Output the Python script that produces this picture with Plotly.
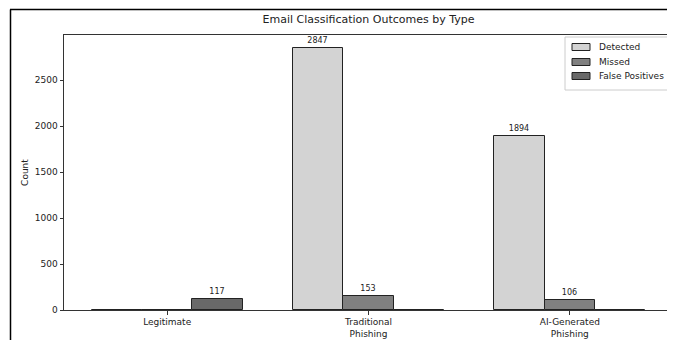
import plotly.graph_objects as go

categories = ["Legitimate", "Traditional<br>Phishing", "AI-Generated<br>Phishing"]
detected = [0, 2847, 1894]
missed = [0, 153, 106]
false_positives = [117, 0, 0]
series_names = ["Detected", "Missed", "False Positives"]
series_colors = ["#d3d3d3", "#808080", "#696969"]
y_ticks = [0, 500, 1000, 1500, 2000, 2500]

FONT = "DejaVu Sans, Arial, sans-serif"
TXT = "#222222"
EDGE = "#222222"

# page body has an 8px margin: figure drawn at (8, 8)
OFF = 8
W, H = 675 - OFF, 340 - OFF
# plot area in page pixels: left 64, right 673, top 35, bottom 310
L, R, T, B = 64 - OFF, 673 - OFF, 35 - OFF, 310 - OFF
pw, ph = R - L, B - T


def px_x(x):
    return (x - OFF - L) / pw


def px_y(y):
    return (B - (y - OFF)) / ph


fig = go.Figure()
x_pos = [0, 1, 2]
width = 0.25
for i, (name, vals, col) in enumerate(zip(series_names, [detected, missed, false_positives], series_colors)):
    off = (i - 1) * width
    fig.add_trace(go.Bar(
        x=[p + off for p in x_pos],
        y=vals,
        width=width,
        name=name,
        marker=dict(color=col, line=dict(color=EDGE, width=1)),
        text=[str(v) if v > 0 else "" for v in vals],
        textposition="outside",
        textfont=dict(size=8, color=TXT, family=FONT),
        cliponaxis=False,
        showlegend=False,
    ))

ymax = max(detected + missed + false_positives) * 1.05

shapes = [
    dict(type="line", xref="paper", yref="paper",
         x0=px_x(10.5), x1=px_x(10.5), y0=px_y(9.5), y1=px_y(345),
         line=dict(color="black", width=1.5)),
    dict(type="line", xref="paper", yref="paper",
         x0=px_x(10), x1=px_x(680), y0=px_y(9.5), y1=px_y(9.5),
         line=dict(color="black", width=1.5)),
    # legend frame
    dict(type="rect", xref="paper", yref="paper",
         x0=px_x(565), x1=px_x(670), y0=px_y(37), y1=px_y(90),
         line=dict(color="#cccccc", width=1), fillcolor="rgba(255,255,255,0.8)"),
]
annotations = []
leg_y = [47, 62, 76]
for name, col, yy in zip(series_names, series_colors, leg_y):
    shapes.append(dict(type="rect", xref="paper", yref="paper",
                       x0=px_x(572), x1=px_x(590), y0=px_y(yy - 3.5), y1=px_y(yy + 3.5),
                       line=dict(color=EDGE, width=1), fillcolor=col))
    annotations.append(dict(text=name, xref="paper", yref="paper",
                            x=px_x(597), y=px_y(yy), xanchor="left", yanchor="middle",
                            showarrow=False, font=dict(size=9, color=TXT, family=FONT)))

fig.update_layout(
    width=W, height=H,
    margin=dict(l=L, r=W - R, t=T, b=H - B),
    plot_bgcolor="white",
    paper_bgcolor="white",
    barmode="overlay",
    bargap=0,
    showlegend=False,
    font=dict(family=FONT, size=9, color=TXT),
    title=dict(text="Email Classification Outcomes by Type",
               x=0.5, xref="paper", xanchor="center",
               y=1 - (19 - OFF) / H, yanchor="middle",
               font=dict(size=11, color=TXT, family=FONT)),
    xaxis=dict(
        range=[-0.5125, 2.5125],
        tickmode="array", tickvals=x_pos, ticktext=categories,
        showline=True, linecolor="#333333", linewidth=1, mirror=True,
        ticks="outside", ticklen=3.5, tickcolor="#333333",
        showgrid=False, zeroline=False,
        tickfont=dict(size=9, color=TXT, family=FONT),
    ),
    yaxis=dict(
        range=[0, ymax],
        tickmode="array", tickvals=y_ticks,
        showline=True, linecolor="#333333", linewidth=1, mirror=True,
        ticks="outside", ticklen=3.5, tickcolor="#333333",
        showgrid=False, zeroline=False,
        title=dict(text="Count", font=dict(size=9, color=TXT, family=FONT), standoff=4),
        tickfont=dict(size=9, color=TXT, family=FONT),
    ),
    shapes=shapes,
    annotations=annotations,
)

fig.write_html("out.html")
